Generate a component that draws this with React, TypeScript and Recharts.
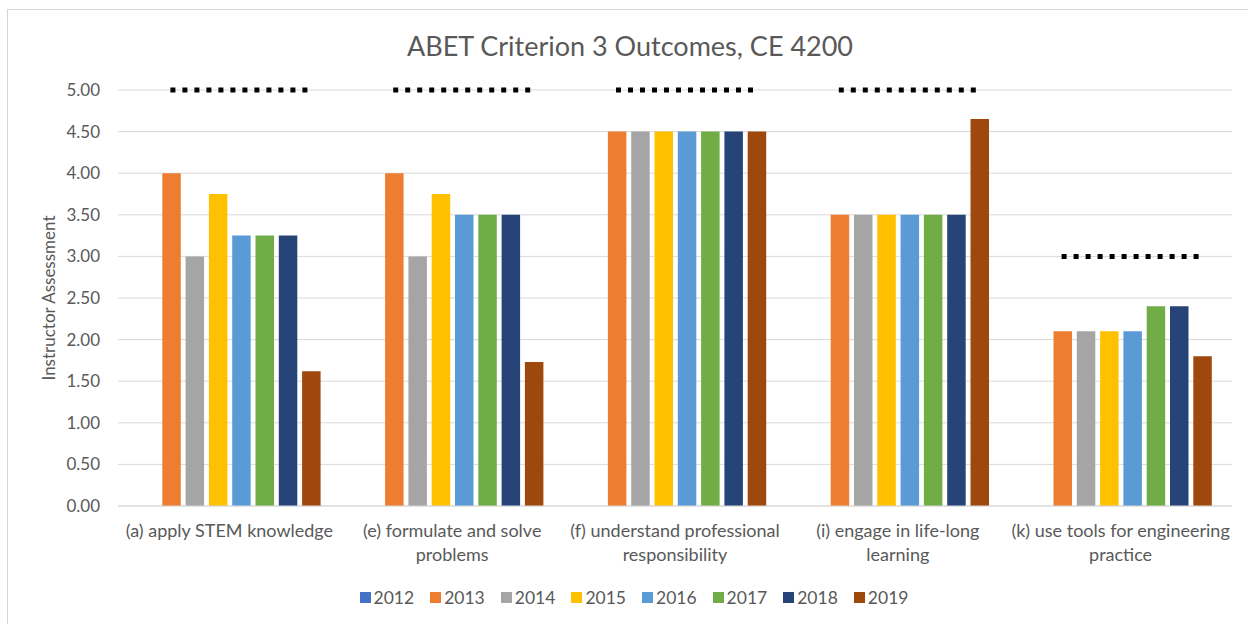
import { ComposedChart, Bar, Line, XAxis, YAxis, CartesianGrid, Legend, Label } from 'recharts';

const FONT = 'Lato, "Open Sans", sans-serif';
const TEXT = '#595959';

// category labels, already split the way the axis wraps them
const categoryLines = [
    ['(a) apply STEM knowledge'],
    ['(e) formulate and solve', 'problems'],
    ['(f) understand professional', 'responsibility'],
    ['(i) engage in life-long', 'learning'],
    ['(k) use tools for engineering', 'practice'],
];
const categories = categoryLines.map(l => l.join(' '));

const years = ['2012', '2013', '2014', '2015', '2016', '2017', '2018', '2019'];
const yearColors = ['#4472C4', '#ED7D31', '#A5A5A5', '#FFC000', '#5B9BD5', '#70AD47', '#264478', '#9E480E'];

// one array per year, values in category order
const v2012 = [null, null, null, null, null];
const v2013 = [4.0, 4.0, 4.5, 3.5, 2.1];
const v2014 = [3.0, 3.0, 4.5, 3.5, 2.1];
const v2015 = [3.75, 3.75, 4.5, 3.5, 2.1];
const v2016 = [3.25, 3.5, 4.5, 3.5, 2.1];
const v2017 = [3.25, 3.5, 4.5, 3.5, 2.4];
const v2018 = [3.25, 3.5, 4.5, 3.5, 2.4];
const v2019 = [1.62, 1.73, 4.5, 4.65, 1.8];
const yearValues = [v2012, v2013, v2014, v2015, v2016, v2017, v2018, v2019];

// dotted target level per outcome
const targets = [5, 5, 5, 5, 3];

const yTicks = [0, 0.5, 1, 1.5, 2, 2.5, 3, 3.5, 4, 4.5, 5];

const data = categories.map((category, i) => {
    const row: any = { category, target: targets[i] };
    years.forEach((y, j) => { row[y] = yearValues[j][i]; });
    return row;
});

const CategoryTick = ({ x, y, payload }: any) => {
    const lines = categoryLines[categories.indexOf(payload.value)] || [payload.value];
    return (
        <text x={x} y={y} textAnchor="middle" fill={TEXT} fontFamily={FONT} fontSize={18}>
            {lines.map((line, i) => (
                <tspan key={i} x={x} dy={i === 0 ? 23 : 24}>{line}</tspan>
            ))}
        </text>
    );
};

// dotted segment drawn around each category's point
const TargetMark = (props: any) => {
    const { cx, cy, index } = props;
    if (cx == null || cy == null) return <g key={index} />;
    return (
        <line key={index} x1={cx - 59} x2={cx + 79} y1={cy} y2={cy}
            stroke="#000" strokeWidth={5} strokeDasharray="5 7" />
    );
};

const LegendContent = () => (
    <div style={{
        display: 'flex', justifyContent: 'center', alignItems: 'center', height: 24,
        paddingLeft: 14, fontFamily: FONT, fontSize: 17.5, color: TEXT,
    }}>
        {years.map((y, i) => (
            <div key={y} style={{ display: 'flex', alignItems: 'center', marginRight: 16 }}>
                <span style={{ width: 11, height: 11, background: yearColors[i], marginRight: 3, display: 'inline-block' }} />
                <span>{y}</span>
            </div>
        ))}
    </div>
);

export default function App() {
    return (
        <div style={{ position: 'absolute', left: 0, top: 0, width: 1248, height: 624, background: '#fff', overflow: 'hidden' }}>
            <div style={{
                position: 'absolute', left: 7, top: 9, width: 1260, height: 640,
                borderLeft: '1px solid #d6d6d6', borderTop: '1px solid #d6d6d6',
            }} />
            <div style={{
                position: 'absolute', left: 0, width: 1260, top: 30, textAlign: 'center',
                fontFamily: FONT, fontSize: 27, lineHeight: '32px', color: TEXT,
            }}>
                ABET Criterion 3 Outcomes, CE 4200
            </div>
            <div style={{ position: 'absolute', left: 0, top: 0 }}>
                <ComposedChart width={1248} height={624} data={data}
                    margin={{ top: 90, right: 16, left: 38, bottom: 15 }}
                    barSize={18.5} barGap={4.8}>
                    <CartesianGrid vertical={false} stroke="#d9d9d9" />
                    <XAxis dataKey="category" tickLine={false} axisLine={{ stroke: '#d9d9d9' }}
                        height={79} interval={0} tick={<CategoryTick />} />
                    <YAxis domain={[0, 5]} ticks={yTicks} width={80} tickLine={false} axisLine={false}
                        tickMargin={12} tickFormatter={(v: number) => v.toFixed(2)}
                        tick={{ fill: TEXT, fontFamily: FONT, fontSize: 17 }}>
                        <Label content={(props: any) => {
                            const vb = props.viewBox;
                            const cx = vb.x + 10;
                            const cy = vb.y + vb.height / 2;
                            return (
                                <text x={cx} y={cy} transform={`rotate(-90 ${cx} ${cy})`} textAnchor="middle"
                                    dominantBaseline="central" fill={TEXT} fontFamily={FONT} fontSize={17}>
                                    Instructor Assessment
                                </text>
                            );
                        }} />
                    </YAxis>
                    <Legend verticalAlign="bottom" content={<LegendContent />} />
                    {years.map((y, i) => (
                        <Bar key={y} dataKey={y} name={y} fill={yearColors[i]} isAnimationActive={false} />
                    ))}
                    <Line dataKey="target" stroke="none" legendType="none" dot={<TargetMark />}
                        activeDot={false} isAnimationActive={false} />
                </ComposedChart>
            </div>
        </div>
    );
}
